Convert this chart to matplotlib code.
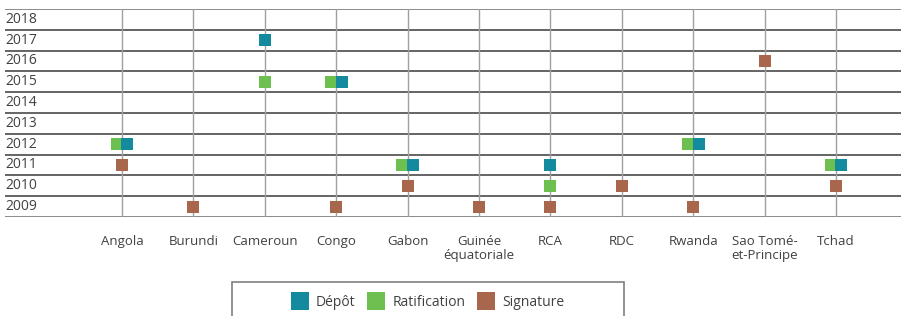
import matplotlib.pyplot as plt
from matplotlib.lines import Line2D
from matplotlib.patches import Rectangle

plt.rcParams['font.family'] = ['Open Sans', 'DejaVu Sans']

countries = ['Angola', 'Burundi', 'Cameroun', 'Congo', 'Gabon', 'Guinée\néquatoriale',
             'RCA', 'RDC', 'Rwanda', 'Sao Tomé-\net-Principe', 'Tchad']
years = list(range(2009, 2019))

# année par pays (None = pas d'événement)
signature =    [2011, 2009, None, 2009, 2010, 2009, 2009, 2010, 2009, 2016, 2010]
ratification = [2012, None, 2015, 2015, 2011, None, 2010, None, 2012, None, 2011]
depot =        [2012, None, 2017, 2015, 2011, None, 2011, None, 2012, None, 2011]

c_depot = '#138a9e'
c_ratif = '#6dbf50'
c_sign = '#a8674c'

fig = plt.figure(figsize=(9.01, 3.16), dpi=100)
ax = fig.add_axes([5/901, 1-217/316, 896/901, 208/316])

step = 71.4
ax.set_xlim((5-122)/step, (901-122)/step)
ax.set_ylim(2008.5, 2018.5)
ax.axis('off')

for y in range(2008, 2019):
    col = '#777777' if y in (2008, 2018) else '#4a4a4a'
    ax.axhline(y + 0.5, color=col, lw=1.2, zorder=1)
for i in range(len(countries)):
    ax.axvline(i, color='#a0a0a0', lw=1.0, zorder=1)

for y in years:
    ax.text((5-122)/step, y, str(y), ha='left', va='center', fontsize=10, color='#404040')

ms = 8.6
off = 0.077
for i in range(len(countries)):
    s, r, d = signature[i], ratification[i], depot[i]
    if s is not None:
        ax.plot(i, s, 's', ms=ms, color=c_sign, mew=0, zorder=3)
    same = r is not None and d is not None and r == d
    if r is not None:
        ax.plot(i - off if same else i, r, 's', ms=ms, color=c_ratif, mew=0, zorder=3)
    if d is not None:
        ax.plot(i + off if same else i, d, 's', ms=ms, color=c_depot, mew=0, zorder=4)

for i, name in enumerate(countries):
    ax.text(i, 2008.5 - 0.85, name, ha='center', va='top', fontsize=9.5,
            color='#404040', linespacing=1.15)

# cadre de légende
fig.patches.append(Rectangle((232/901, -0.05), (624-232)/901, 0.05 + 1-282/316,
                             transform=fig.transFigure, fill=False,
                             edgecolor='#808080', lw=1.2))
handles = [Line2D([], [], ls='none', marker='s', ms=13.5, mew=0, color=c)
           for c in (c_depot, c_ratif, c_sign)]
fig.legend(handles, ['Dépôt', 'Ratification', 'Signature'], loc='center',
           bbox_to_anchor=(428/901, 1-302/316), ncol=3, frameon=False,
           fontsize=10, handletextpad=0.55, columnspacing=0.9, handlelength=1.2,
           labelcolor='#404040')

fig.savefig('out.png', dpi=100)
